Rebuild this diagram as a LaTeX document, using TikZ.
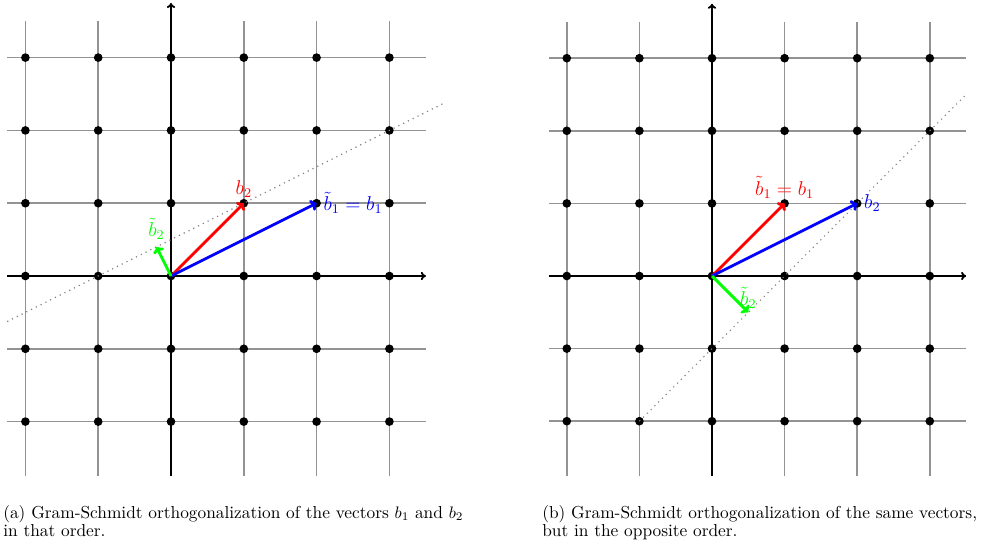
\documentclass[tikz,border=0pt]{standalone}
\usetikzlibrary{arrows.meta}
\begin{document}
\begin{tikzpicture}[x=0.6pt,y=-0.6pt,
  gridline/.style={gray!85, line width=0.85pt},
  axisline/.style={black, line width=1.1pt, -{To[length=3pt,width=5pt]}},
  latdot/.style={circle, fill=black, inner sep=0pt, minimum size=5.2pt},
  vec/.style={line width=1.7pt, -{To[length=3.6pt,width=7pt]}},
  aff/.style={gray, line width=0.7pt, dash pattern=on 0.7pt off 2.5pt},
  vlabel/.style={font=\fontsize{12}{14}\selectfont, inner sep=3pt},
  capt/.style={font=\fontsize{10.4}{10.8}\selectfont, align=left, anchor=north west, inner sep=0pt}
]
\useasboundingbox (0,0) rectangle (995,542);

% ---------- left panel ----------
\begin{scope}[shift={(171,276)}, x=43.68pt, y=43.68pt]
  \foreach \i in {-2,...,3} {
    \draw[gridline] (\i,-2.75) -- (\i,3.5);
    \draw[gridline] (-2.25,\i) -- (3.5,\i);
  }
  \coordinate (LXs) at (-2.25,0); \coordinate (LXe) at (3.5,0);
  \coordinate (LYs) at (0,-2.75); \coordinate (LYe) at (0,3.75);
  \draw[axisline] (LXs) -- (LXe);
  \draw[axisline] (LYs) -- (LYe);
  \foreach \i in {-2,...,3} \foreach \j in {-2,...,3}
    \node[latdot] (Ld\i\j) at (\i,\j) {};
  \coordinate (LAs) at (-2.25,-0.625); \coordinate (LAe) at (3.75,2.375);
  \draw[aff] (LAs) -- (LAe);
  \coordinate (LO) at (0,0);
  \coordinate (LB1) at (2,1);
  \coordinate (LB2) at (1,1);
  \coordinate (LT2) at (-0.2,0.4);
  \draw[vec, red] (LO) -- (LB2);
  \draw[vec, blue] (LO) -- (LB1);
  \draw[vec, green] (LO) -- (LT2);
  \node[vlabel, red, above] (Llb2) at (LB2) {$b_2$};
  \node[vlabel, blue, right, xshift=1pt] (Llb1) at (LB1) {$\tilde{b}_1 = b_1$};
  \node[vlabel, green, above, inner sep=4pt] (Llt2) at (LT2) {$\tilde{b}_2$};
\end{scope}

% ---------- right panel ----------
\begin{scope}[shift={(712,276)}, x=43.56pt, y=43.56pt]
  \foreach \i in {-2,...,3} {
    \draw[gridline] (\i,-2.75) -- (\i,3.5);
    \draw[gridline] (-2.25,\i) -- (3.5,\i);
  }
  \coordinate (RXs) at (-2.25,0); \coordinate (RXe) at (3.5,0);
  \coordinate (RYs) at (0,-2.75); \coordinate (RYe) at (0,3.75);
  \draw[axisline] (RXs) -- (RXe);
  \draw[axisline] (RYs) -- (RYe);
  \foreach \i in {-2,...,3} \foreach \j in {-2,...,3}
    \node[latdot] (Rd\i\j) at (\i,\j) {};
  \coordinate (RAs) at (-1,-2); \coordinate (RAe) at (3.5,2.5);
  \draw[aff] (RAs) -- (RAe);
  \coordinate (RO) at (0,0);
  \coordinate (RB1) at (1,1);
  \coordinate (RB2) at (2,1);
  \coordinate (RT2) at (0.5,-0.5);
  \draw[vec, red] (RO) -- (RB1);
  \draw[vec, blue] (RO) -- (RB2);
  \draw[vec, green] (RO) -- (RT2);
  \node[vlabel, red, above] (Rlb1) at (RB1) {$\tilde{b}_1 = b_1$};
  \node[vlabel, blue, right, xshift=1pt] (Rlb2) at (RB2) {$b_2$};
  \node[vlabel, green, above, inner sep=2pt] (Rlt2) at (RT2) {$\tilde{b}_2$};
\end{scope}

% ---------- captions ----------
\node[capt] (capA) at (3,505) {(a) Gram-Schmidt orthogonalization of the vectors $b_1$ and $b_2$\\in that order.};
\node[capt] (capB) at (542,505) {(b) Gram-Schmidt orthogonalization of the same vectors,\\but in the opposite order.};
\end{tikzpicture}
\end{document}
